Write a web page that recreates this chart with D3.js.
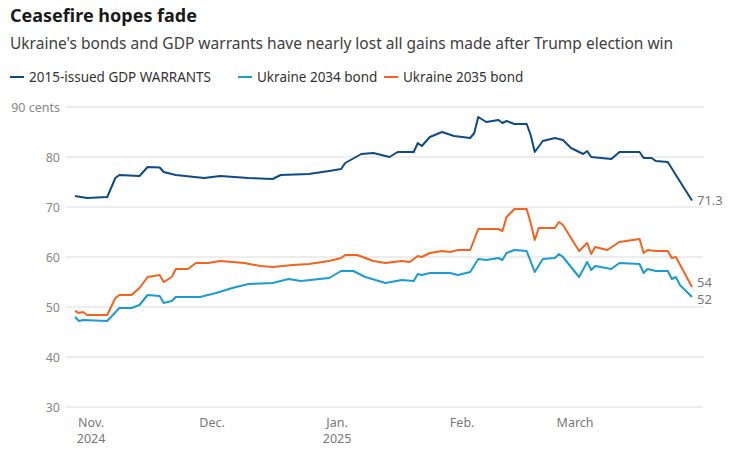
<!DOCTYPE html>
<html><head><meta charset="utf-8">
<script src="https://cdn.jsdelivr.net/npm/d3@7"></script>
<style>body{margin:0;background:#fff;font-family:"Source Sans Pro","Noto Sans",sans-serif}</style>
</head><body><svg id="c" width="739" height="453"></svg>
<script>
const warrants = [["2024-10-28",72.2],["2024-10-31",71.8],["2024-11-05",72],["2024-11-07",75.8],["2024-11-08",76.4],["2024-11-13",76.2],["2024-11-15",78],["2024-11-18",77.9],["2024-11-19",77],["2024-11-22",76.4],["2024-11-29",75.8],["2024-12-03",76.2],["2024-12-10",75.8],["2024-12-16",75.6],["2024-12-18",76.4],["2024-12-25",76.6],["2024-12-30",77.2],["2025-01-02",77.6],["2025-01-03",78.8],["2025-01-07",80.6],["2025-01-10",80.8],["2025-01-14",80],["2025-01-16",81],["2025-01-20",81],["2025-01-21",82.8],["2025-01-22",82.2],["2025-01-24",84],["2025-01-27",85],["2025-01-30",84.2],["2025-02-03",83.8],["2025-02-04",84.8],["2025-02-05",88],["2025-02-07",87],["2025-02-10",87.4],["2025-02-11",86.8],["2025-02-12",87.2],["2025-02-14",86.6],["2025-02-17",86.6],["2025-02-18",84.4],["2025-02-19",81],["2025-02-21",83.2],["2025-02-24",83.8],["2025-02-26",83.4],["2025-02-28",81.8],["2025-03-03",80.6],["2025-03-04",81.2],["2025-03-05",80],["2025-03-10",79.6],["2025-03-12",81],["2025-03-17",81],["2025-03-18",79.8],["2025-03-20",79.8],["2025-03-21",79.2],["2025-03-24",79],["2025-03-26",76.4],["2025-03-30",71.3]];
const bond2035 = [["2024-10-28",49.2],["2024-10-29",48.8],["2024-10-30",49],["2024-10-31",48.4],["2024-11-05",48.4],["2024-11-07",51.8],["2024-11-08",52.4],["2024-11-11",52.4],["2024-11-13",53.8],["2024-11-15",56],["2024-11-18",56.4],["2024-11-19",55],["2024-11-21",56],["2024-11-22",57.6],["2024-11-25",57.6],["2024-11-27",58.8],["2024-11-30",58.8],["2024-12-03",59.2],["2024-12-09",58.8],["2024-12-13",58.2],["2024-12-16",58],["2024-12-21",58.4],["2024-12-25",58.6],["2024-12-30",59.2],["2025-01-02",59.8],["2025-01-03",60.4],["2025-01-06",60.4],["2025-01-10",59.2],["2025-01-13",58.8],["2025-01-17",59.2],["2025-01-19",59],["2025-01-21",60.2],["2025-01-22",60],["2025-01-24",60.8],["2025-01-27",61.2],["2025-01-29",61],["2025-01-31",61.4],["2025-02-03",61.4],["2025-02-05",65.6],["2025-02-10",65.6],["2025-02-11",65.2],["2025-02-12",68],["2025-02-14",69.6],["2025-02-17",69.6],["2025-02-18",66.8],["2025-02-19",63.4],["2025-02-20",65.8],["2025-02-24",65.8],["2025-02-25",67],["2025-02-26",66.4],["2025-03-02",61.2],["2025-03-04",62.8],["2025-03-05",60.6],["2025-03-06",62],["2025-03-09",61.4],["2025-03-12",63],["2025-03-17",63.6],["2025-03-18",60.8],["2025-03-19",61.4],["2025-03-21",61.2],["2025-03-24",61.2],["2025-03-25",59.8],["2025-03-26",60],["2025-03-30",54]];
const bond2034 = [["2024-10-28",48],["2024-10-29",47.2],["2024-10-30",47.4],["2024-11-05",47.2],["2024-11-08",49.8],["2024-11-11",49.8],["2024-11-13",50.4],["2024-11-15",52.4],["2024-11-18",52.2],["2024-11-19",50.8],["2024-11-21",51.2],["2024-11-22",52],["2024-11-28",52],["2024-12-02",52.8],["2024-12-06",53.8],["2024-12-10",54.6],["2024-12-16",54.8],["2024-12-20",55.6],["2024-12-23",55.2],["2024-12-30",55.8],["2025-01-02",57.2],["2025-01-05",57.2],["2025-01-08",56],["2025-01-13",54.8],["2025-01-17",55.4],["2025-01-20",55.2],["2025-01-21",56.6],["2025-01-22",56.4],["2025-01-24",56.8],["2025-01-29",56.8],["2025-01-31",56.4],["2025-02-03",57],["2025-02-05",59.6],["2025-02-07",59.4],["2025-02-10",59.8],["2025-02-11",59.4],["2025-02-12",60.8],["2025-02-14",61.4],["2025-02-17",61.2],["2025-02-19",57],["2025-02-21",59.6],["2025-02-24",59.8],["2025-02-25",60.6],["2025-02-26",60],["2025-03-02",56],["2025-03-04",59],["2025-03-05",57.4],["2025-03-06",58.2],["2025-03-10",57.6],["2025-03-12",58.8],["2025-03-17",58.6],["2025-03-18",56.8],["2025-03-19",57.6],["2025-03-21",57.2],["2025-03-24",57.2],["2025-03-25",55.6],["2025-03-26",56],["2025-03-27",54.4],["2025-03-30",52]];
const seriesNames = ["2015-issued GDP WARRANTS","Ukraine 2034 bond","Ukraine 2035 bond"];
const seriesColors = ["#0d4a86","#1b9bd1","#f5621c"];
const endLabels = ["71.3","52","54"];
const yTicks = [30,40,50,60,70,80,90];
const monthTicks = ["2024-11-01","2024-12-01","2025-01-01","2025-02-01","2025-03-01"];
const monthLabels = [["Nov.","2024"],["Dec."],["Jan.","2025"],["Feb."],["March"]];

const svg = d3.select("#c");
const parse = d3.timeParse("%Y-%m-%d");
const x = d3.scaleTime().domain([parse("2024-10-28"), parse("2025-03-30")]).range([75, 692]);
const y = d3.scaleLinear().domain([30, 90]).range([407, 107]);

svg.append("text").attr("x",10).attr("y",22).attr("font-size",18).attr("font-weight",700).attr("fill","#1a1a1a").text("Ceasefire hopes fade");
svg.append("text").attr("x",10).attr("y",49).attr("font-size",15.5).attr("fill","#404040").text("Ukraine's bonds and GDP warrants have nearly lost all gains made after Trump election win");

const legX = [10, 238, 384];
seriesNames.forEach((n,i)=>{
  svg.append("line").attr("x1",legX[i]).attr("x2",legX[i]+14).attr("y1",77).attr("y2",77).attr("stroke",seriesColors[i]).attr("stroke-width",2);
  svg.append("text").attr("x",legX[i]+19).attr("y",82).attr("font-size",13.5).attr("fill","#333").text(n);
});

const g = svg.append("g");
yTicks.forEach(t=>{
  g.append("line").attr("x1",66).attr("x2",703).attr("y1",y(t)).attr("y2",y(t)).attr("stroke","#dcdcdc").attr("stroke-width",1.2);
  g.append("text").attr("x",60).attr("y",y(t)+4.5).attr("text-anchor","end").attr("font-size",12.5).attr("fill","#888").text(t===90?"90 cents":t);
});
monthTicks.forEach((m,i)=>{
  const t = g.append("text").attr("x",x(parse(m))).attr("y",427).attr("text-anchor","middle").attr("font-size",12.5).attr("fill","#777");
  monthLabels[i].forEach((s,j)=>t.append("tspan").attr("x",x(parse(m))).attr("dy",j?16:0).text(s));
});

const line = d3.line().x(d=>x(parse(d[0]))).y(d=>y(d[1]));
[warrants, bond2034, bond2035].forEach((s,i)=>{
  g.append("path").attr("d",line(s)).attr("fill","none").attr("stroke",seriesColors[i]).attr("stroke-width",2).attr("stroke-linejoin","round");
  const last = s[s.length-1];
  g.append("text").attr("x",x(parse(last[0]))+5).attr("y",y(last[1])+(i===1?7:i===0?4:0)).attr("font-size",13).attr("fill","#777").text(endLabels[i]);
});
</script></body></html>
